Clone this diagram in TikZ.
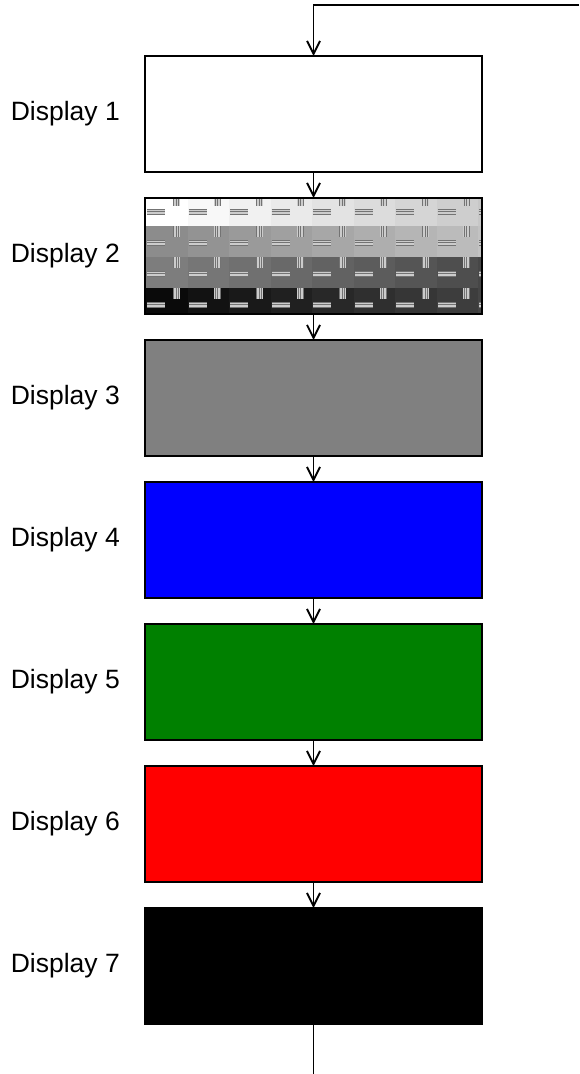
\documentclass[tikz,border=0pt]{standalone}
\usepackage{fontspec}
\setmainfont{Liberation Sans}
\usetikzlibrary{arrows.meta,positioning}

\definecolor{scrgreen}{RGB}{0,128,0}

\tikzset{
  screen/.style={draw=black,line width=2.4pt,minimum width=337pt,minimum height=116pt,inner sep=0pt,outer sep=0pt},
  flow/.style={line width=1.9pt,-{Straight Barb[length=13pt,width=13pt,line width=1.9pt]}},
  dlabel/.style={font=\fontsize{26.5}{31}\selectfont,anchor=east,inner sep=0pt}
}

\begin{document}
\begin{tikzpicture}[x=1pt,y=-1pt]
  \useasboundingbox (0,0) rectangle (579,1074);
  % the seven screens and their names
  \foreach \i/\col in {1/white,2/white,3/gray,4/blue,5/scrgreen,6/red,7/black} {
    \node[screen,fill=\col] (d\i) at (313.5,{114+142*(\i-1)}) {};
    \node[dlabel] (l\i) at (120,{114+142*(\i-1)}) {Display \i};
  }
  % grey steps with line marks on screen 2
  \begin{scope}
    \clip (d2.south west) rectangle (d2.north east);
    \foreach \r/\a/\b in {0/100/78,1/55/76,2/49/28,3/4/27} {
      \foreach \c in {0,...,8} {
        \pgfmathsetmacro\g{\a+(\b-\a)*\c/8}
        \pgfmathsetmacro\xa{146+41.5*\c}
        \pgfmathsetmacro\ya{195+31*\r}
        \fill[white!\g!black] (\xa,\ya) rectangle ++(41.6,31.1);
        \fill[white!80!black] (\xa+1,\ya+13.5) rectangle ++(18,6);
        \foreach \k in {0,2.5,5}
          \draw[black!55,line width=1pt] (\xa+1,\ya+14+\k) -- ++(18,0);
        \fill[white!80!black] (\xa+26.5,\ya) rectangle ++(7,11);
        \foreach \k in {0,2.5,5}
          \draw[black!55,line width=1pt] (\xa+27.5+\k,\ya) -- ++(0,11);
      }
    }
  \end{scope}
  \draw[line width=2.4pt] (d2.south west) rectangle (d2.north east);
  % connectors
  \coordinate (in) at (579,5);
  \coordinate (out) at (313.5,1074);
  \draw[flow] (in) -| (d1.north);
  \foreach \i in {1,...,6} {
    \pgfmathtruncatemacro\j{\i+1}
    \draw[flow] (d\i.south) -- (d\j.north);
  }
  \draw[line width=1.9pt] (d7.south) -- (out);
\end{tikzpicture}
\end{document}
